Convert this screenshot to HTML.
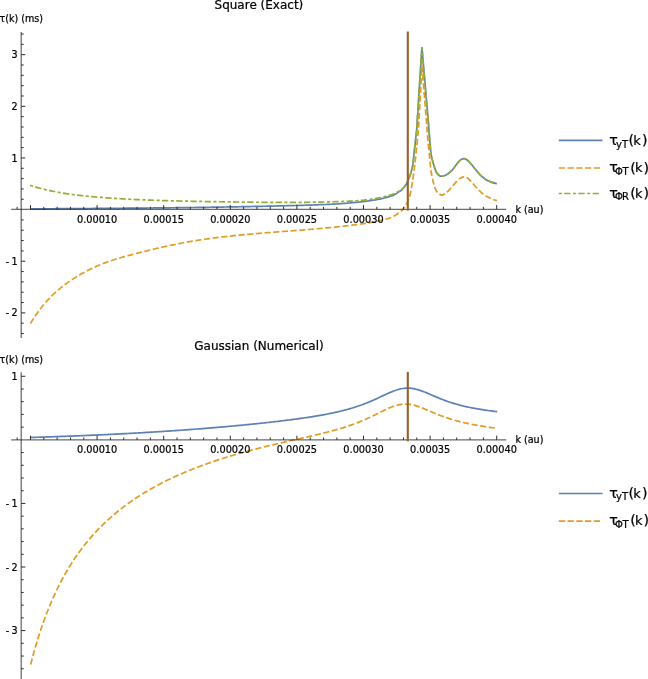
<!DOCTYPE html>
<html lang="en"><head><meta charset="utf-8"><title>Plots</title>
<style>html,body{margin:0;padding:0;background:#fff;}svg{display:block;}text{font-family:"DejaVu Sans","Liberation Sans",sans-serif;fill:#000;stroke:#000;stroke-width:0.22px;}</style></head><body>
<svg width="648" height="679" viewBox="0 0 648 679">
<rect width="648" height="679" fill="#fff"/>
<path d="M30.50 208.88 C30.75 208.88 31.50 208.88 32.00 208.87 C32.50 208.87 33.01 208.87 33.51 208.86 C34.01 208.86 34.51 208.86 35.01 208.85 C35.51 208.85 36.01 208.85 36.51 208.84 C37.01 208.84 37.52 208.84 38.02 208.84 C38.52 208.83 39.02 208.83 39.52 208.83 C40.02 208.82 40.52 208.82 41.02 208.82 C41.52 208.81 42.03 208.81 42.53 208.81 C43.03 208.80 43.53 208.80 44.03 208.80 C44.53 208.80 45.03 208.79 45.53 208.79 C46.03 208.79 46.54 208.78 47.04 208.78 C47.54 208.78 48.04 208.77 48.54 208.77 C49.04 208.77 49.54 208.76 50.04 208.76 C50.54 208.76 51.05 208.75 51.55 208.75 C52.05 208.75 52.55 208.74 53.05 208.74 C53.55 208.74 54.05 208.74 54.55 208.73 C55.05 208.73 55.56 208.73 56.06 208.72 C56.56 208.72 57.06 208.72 57.56 208.71 C58.06 208.71 58.56 208.71 59.06 208.70 C59.56 208.70 60.07 208.70 60.57 208.69 C61.07 208.69 61.57 208.69 62.07 208.68 C62.57 208.68 63.07 208.68 63.57 208.68 C64.07 208.67 64.57 208.67 65.08 208.67 C65.58 208.66 66.08 208.66 66.58 208.66 C67.08 208.65 67.58 208.65 68.08 208.65 C68.58 208.64 69.08 208.64 69.59 208.64 C70.09 208.63 70.59 208.63 71.09 208.63 C71.59 208.62 72.09 208.62 72.59 208.62 C73.09 208.61 73.59 208.61 74.10 208.61 C74.60 208.60 75.10 208.60 75.60 208.60 C76.10 208.59 76.60 208.59 77.10 208.59 C77.60 208.58 78.10 208.58 78.61 208.58 C79.11 208.57 79.61 208.57 80.11 208.57 C80.61 208.56 81.11 208.56 81.61 208.56 C82.11 208.55 82.61 208.55 83.12 208.55 C83.62 208.54 84.12 208.54 84.62 208.54 C85.12 208.53 85.62 208.53 86.12 208.53 C86.62 208.52 87.12 208.52 87.63 208.52 C88.13 208.51 88.63 208.51 89.13 208.51 C89.63 208.50 90.13 208.50 90.63 208.49 C91.13 208.49 91.63 208.49 92.14 208.48 C92.64 208.48 93.14 208.48 93.64 208.47 C94.14 208.47 94.64 208.47 95.14 208.46 C95.64 208.46 96.14 208.46 96.65 208.45 C97.15 208.45 97.65 208.44 98.15 208.44 C98.65 208.44 99.15 208.43 99.65 208.43 C100.15 208.43 100.65 208.42 101.16 208.42 C101.66 208.42 102.16 208.41 102.66 208.41 C103.16 208.40 103.66 208.40 104.16 208.40 C104.66 208.39 105.16 208.39 105.67 208.39 C106.17 208.38 106.67 208.38 107.17 208.37 C107.67 208.37 108.17 208.37 108.67 208.36 C109.17 208.36 109.67 208.35 110.18 208.35 C110.68 208.35 111.18 208.34 111.68 208.34 C112.18 208.33 112.68 208.33 113.18 208.33 C113.68 208.32 114.18 208.32 114.69 208.32 C115.19 208.31 115.69 208.31 116.19 208.30 C116.69 208.30 117.19 208.29 117.69 208.29 C118.19 208.29 118.69 208.28 119.20 208.28 C119.70 208.27 120.20 208.27 120.70 208.27 C121.20 208.26 121.70 208.26 122.20 208.25 C122.70 208.25 123.20 208.25 123.70 208.24 C124.21 208.24 124.71 208.23 125.21 208.23 C125.71 208.22 126.21 208.22 126.71 208.22 C127.21 208.21 127.71 208.21 128.21 208.20 C128.72 208.20 129.22 208.19 129.72 208.19 C130.22 208.19 130.72 208.18 131.22 208.18 C131.72 208.17 132.22 208.17 132.72 208.16 C133.23 208.16 133.73 208.15 134.23 208.15 C134.73 208.14 135.23 208.14 135.73 208.14 C136.23 208.13 136.73 208.13 137.23 208.12 C137.74 208.12 138.24 208.11 138.74 208.11 C139.24 208.10 139.74 208.10 140.24 208.09 C140.74 208.09 141.24 208.08 141.74 208.08 C142.25 208.08 142.75 208.07 143.25 208.07 C143.75 208.06 144.25 208.06 144.75 208.05 C145.25 208.05 145.75 208.04 146.25 208.04 C146.76 208.03 147.26 208.03 147.76 208.02 C148.26 208.02 148.76 208.01 149.26 208.01 C149.76 208.00 150.26 208.00 150.76 207.99 C151.27 207.99 151.77 207.98 152.27 207.98 C152.77 207.97 153.27 207.97 153.77 207.96 C154.27 207.96 154.77 207.95 155.27 207.95 C155.78 207.94 156.28 207.94 156.78 207.93 C157.28 207.92 157.78 207.92 158.28 207.91 C158.78 207.91 159.28 207.90 159.78 207.90 C160.29 207.89 160.79 207.89 161.29 207.88 C161.79 207.88 162.29 207.87 162.79 207.87 C163.29 207.86 163.79 207.85 164.29 207.85 C164.80 207.84 165.30 207.84 165.80 207.83 C166.30 207.83 166.80 207.82 167.30 207.82 C167.80 207.81 168.30 207.80 168.80 207.80 C169.31 207.79 169.81 207.79 170.31 207.78 C170.81 207.78 171.31 207.77 171.81 207.76 C172.31 207.76 172.81 207.75 173.31 207.75 C173.82 207.74 174.32 207.73 174.82 207.73 C175.32 207.72 175.82 207.72 176.32 207.71 C176.82 207.70 177.32 207.70 177.82 207.69 C178.33 207.69 178.83 207.68 179.33 207.67 C179.83 207.67 180.33 207.66 180.83 207.65 C181.33 207.65 181.83 207.64 182.33 207.64 C182.83 207.63 183.34 207.62 183.84 207.62 C184.34 207.61 184.84 207.60 185.34 207.60 C185.84 207.59 186.34 207.59 186.84 207.58 C187.34 207.57 187.85 207.57 188.35 207.56 C188.85 207.55 189.35 207.55 189.85 207.54 C190.35 207.53 190.85 207.53 191.35 207.52 C191.85 207.51 192.36 207.51 192.86 207.50 C193.36 207.49 193.86 207.49 194.36 207.48 C194.86 207.47 195.36 207.46 195.86 207.46 C196.36 207.45 196.87 207.44 197.37 207.44 C197.87 207.43 198.37 207.42 198.87 207.42 C199.37 207.41 199.87 207.40 200.37 207.39 C200.87 207.39 201.38 207.38 201.88 207.37 C202.38 207.37 202.88 207.36 203.38 207.35 C203.88 207.34 204.38 207.34 204.88 207.33 C205.38 207.32 205.89 207.31 206.39 207.31 C206.89 207.30 207.39 207.29 207.89 207.28 C208.39 207.28 208.89 207.27 209.39 207.26 C209.89 207.25 210.40 207.25 210.90 207.24 C211.40 207.23 211.90 207.22 212.40 207.22 C212.90 207.21 213.40 207.20 213.90 207.19 C214.40 207.18 214.91 207.18 215.41 207.17 C215.91 207.16 216.41 207.15 216.91 207.14 C217.41 207.14 217.91 207.13 218.41 207.12 C218.91 207.11 219.42 207.10 219.92 207.10 C220.42 207.09 220.92 207.08 221.42 207.07 C221.92 207.06 222.42 207.05 222.92 207.05 C223.42 207.04 223.93 207.03 224.43 207.02 C224.93 207.01 225.43 207.00 225.93 206.99 C226.43 206.99 226.93 206.98 227.43 206.97 C227.93 206.96 228.44 206.95 228.94 206.94 C229.44 206.93 229.94 206.93 230.44 206.92 C230.94 206.91 231.44 206.90 231.94 206.89 C232.44 206.88 232.95 206.87 233.45 206.86 C233.95 206.85 234.45 206.85 234.95 206.84 C235.45 206.83 235.95 206.82 236.45 206.81 C236.95 206.80 237.46 206.79 237.96 206.78 C238.46 206.77 238.96 206.76 239.46 206.75 C239.96 206.74 240.46 206.73 240.96 206.73 C241.46 206.72 241.97 206.71 242.47 206.70 C242.97 206.69 243.47 206.68 243.97 206.67 C244.47 206.66 244.97 206.65 245.47 206.64 C245.97 206.63 246.47 206.62 246.98 206.61 C247.48 206.60 247.98 206.59 248.48 206.58 C248.98 206.57 249.48 206.56 249.98 206.55 C250.48 206.54 250.98 206.53 251.49 206.52 C251.99 206.51 252.49 206.50 252.99 206.49 C253.49 206.48 253.99 206.47 254.49 206.46 C254.99 206.45 255.49 206.44 256.00 206.43 C256.50 206.42 257.00 206.41 257.50 206.40 C258.00 206.39 258.50 206.37 259.00 206.36 C259.50 206.35 260.00 206.34 260.51 206.33 C261.01 206.32 261.51 206.31 262.01 206.30 C262.51 206.29 263.01 206.28 263.51 206.27 C264.01 206.26 264.51 206.24 265.02 206.23 C265.52 206.22 266.02 206.21 266.52 206.20 C267.02 206.19 267.52 206.18 268.02 206.17 C268.52 206.16 269.02 206.14 269.53 206.13 C270.03 206.12 270.53 206.11 271.03 206.10 C271.53 206.09 272.03 206.08 272.53 206.06 C273.03 206.05 273.53 206.04 274.04 206.03 C274.54 206.02 275.04 206.01 275.54 205.99 C276.04 205.98 276.54 205.97 277.04 205.96 C277.54 205.95 278.04 205.93 278.55 205.92 C279.05 205.91 279.55 205.90 280.05 205.89 C280.55 205.87 281.05 205.86 281.55 205.85 C282.05 205.84 282.55 205.82 283.06 205.81 C283.56 205.80 284.06 205.79 284.56 205.78 C285.06 205.76 285.56 205.75 286.06 205.74 C286.56 205.72 287.06 205.71 287.57 205.70 C288.07 205.69 288.57 205.67 289.07 205.66 C289.57 205.65 290.07 205.64 290.57 205.62 C291.07 205.61 291.57 205.60 292.08 205.58 C292.58 205.57 293.08 205.56 293.58 205.54 C294.08 205.53 294.58 205.52 295.08 205.50 C295.58 205.49 296.08 205.48 296.59 205.46 C297.09 205.45 297.59 205.44 298.09 205.42 C298.59 205.41 299.09 205.40 299.59 205.38 C300.09 205.37 300.59 205.36 301.10 205.34 C301.60 205.33 302.10 205.31 302.60 205.30 C303.10 205.29 303.60 205.27 304.10 205.26 C304.60 205.24 305.10 205.23 305.60 205.21 C306.11 205.20 306.61 205.19 307.11 205.17 C307.61 205.16 308.11 205.14 308.61 205.13 C309.11 205.11 309.61 205.10 310.11 205.08 C310.62 205.06 311.12 205.05 311.62 205.03 C312.12 205.02 312.62 205.00 313.12 204.98 C313.62 204.97 314.12 204.95 314.62 204.93 C315.13 204.92 315.63 204.90 316.13 204.88 C316.63 204.86 317.13 204.85 317.63 204.83 C318.13 204.81 318.63 204.79 319.13 204.77 C319.64 204.75 320.14 204.73 320.64 204.71 C321.14 204.69 321.64 204.67 322.14 204.65 C322.64 204.63 323.14 204.61 323.64 204.59 C324.15 204.57 324.65 204.55 325.15 204.52 C325.65 204.50 326.15 204.48 326.65 204.46 C327.15 204.43 327.65 204.41 328.15 204.39 C328.66 204.36 329.16 204.34 329.66 204.31 C330.16 204.29 330.66 204.26 331.16 204.24 C331.66 204.21 332.16 204.18 332.66 204.16 C333.17 204.13 333.67 204.10 334.17 204.07 C334.67 204.04 335.17 204.02 335.67 203.99 C336.17 203.96 336.67 203.93 337.17 203.89 C337.68 203.86 338.18 203.83 338.68 203.80 C339.18 203.77 339.68 203.74 340.18 203.70 C340.68 203.67 341.18 203.63 341.68 203.60 C342.19 203.57 342.69 203.53 343.19 203.49 C343.69 203.46 344.19 203.42 344.69 203.38 C345.19 203.35 345.69 203.31 346.19 203.27 C346.70 203.23 347.20 203.19 347.70 203.15 C348.20 203.11 348.70 203.07 349.20 203.02 C349.70 202.98 350.20 202.94 350.70 202.89 C351.21 202.85 351.71 202.80 352.21 202.76 C352.71 202.71 353.21 202.67 353.71 202.62 C354.21 202.57 354.71 202.52 355.21 202.47 C355.72 202.43 356.22 202.37 356.72 202.32 C357.22 202.27 357.72 202.22 358.22 202.17 C358.72 202.11 359.22 202.06 359.72 202.01 C360.23 201.95 360.73 201.90 361.23 201.84 C361.73 201.78 362.23 201.72 362.73 201.66 C363.23 201.61 363.73 201.55 364.23 201.49 C364.73 201.42 365.24 201.36 365.74 201.30 C366.24 201.24 366.74 201.17 367.24 201.11 C367.74 201.04 368.24 200.97 368.74 200.90 C369.24 200.84 369.75 200.76 370.25 200.69 C370.75 200.62 371.25 200.55 371.75 200.47 C372.25 200.39 372.75 200.31 373.25 200.23 C373.75 200.15 374.26 200.07 374.76 199.98 C375.26 199.90 375.76 199.81 376.26 199.72 C376.76 199.63 377.26 199.54 377.76 199.44 C378.26 199.34 378.77 199.24 379.27 199.14 C379.77 199.04 380.27 198.93 380.77 198.82 C381.27 198.71 381.77 198.60 382.27 198.48 C382.77 198.37 383.28 198.25 383.78 198.12 C384.28 198.00 384.78 197.87 385.28 197.74 C385.78 197.61 386.28 197.47 386.78 197.33 C387.28 197.19 387.79 197.04 388.29 196.90 C388.79 196.75 389.29 196.59 389.79 196.43 C390.29 196.28 390.79 196.11 391.29 195.94 C391.79 195.78 392.30 195.63 392.80 195.42 C393.30 195.22 393.02 195.45 394.30 194.70 C395.58 193.95 398.85 192.15 400.50 190.90 C402.15 189.65 403.17 188.43 404.20 187.20 C405.23 185.97 405.88 185.03 406.70 183.50 C407.52 181.97 408.38 179.85 409.10 178.00 C409.82 176.15 410.38 174.57 411.00 172.40 C411.62 170.23 412.28 168.25 412.80 165.00 C413.32 161.75 413.63 157.18 414.10 152.90 C414.57 148.62 415.17 143.12 415.60 139.30 C416.03 135.48 416.52 131.55 416.70 130.00 L421.90 47.40 L429.00 130.00 C429.12 131.60 429.35 135.57 429.70 139.60 C430.05 143.63 430.45 150.03 431.10 154.20 C431.75 158.37 432.75 161.63 433.60 164.60 C434.45 167.57 435.27 170.18 436.20 172.00 C437.13 173.82 438.22 174.80 439.20 175.50 C440.18 176.20 440.88 176.33 442.10 176.20 C443.32 176.07 444.95 175.58 446.50 174.70 C448.05 173.82 450.02 172.23 451.40 170.90 C452.78 169.57 453.62 168.22 454.80 166.70 C455.98 165.18 457.37 163.03 458.50 161.80 C459.63 160.57 460.67 159.82 461.60 159.30 C462.53 158.78 463.17 158.58 464.10 158.70 C465.03 158.82 466.07 159.17 467.20 160.00 C468.33 160.83 469.47 162.07 470.90 163.70 C472.33 165.33 474.17 167.85 475.80 169.80 C477.43 171.75 479.05 173.78 480.70 175.40 C482.35 177.02 484.05 178.42 485.70 179.50 C487.35 180.58 488.75 181.20 490.60 181.90 C492.45 182.60 495.77 183.40 496.80 183.70" fill="none" stroke="#5E81B5" stroke-width="1.7" stroke-linejoin="miter"/>
<path d="M30.40 323.63 C30.65 323.22 31.40 321.97 31.90 321.17 C32.40 320.36 32.90 319.57 33.41 318.79 C33.91 318.02 34.41 317.25 34.91 316.51 C35.41 315.76 35.91 315.02 36.41 314.30 C36.91 313.58 37.41 312.87 37.91 312.18 C38.42 311.48 38.92 310.80 39.42 310.13 C39.92 309.46 40.42 308.80 40.92 308.16 C41.42 307.51 41.92 306.88 42.42 306.25 C42.92 305.63 43.43 305.02 43.93 304.42 C44.43 303.82 44.93 303.23 45.43 302.65 C45.93 302.08 46.43 301.51 46.93 300.95 C47.43 300.39 47.93 299.84 48.44 299.31 C48.94 298.77 49.44 298.24 49.94 297.72 C50.44 297.20 50.94 296.69 51.44 296.19 C51.94 295.69 52.44 295.20 52.94 294.71 C53.44 294.23 53.95 293.76 54.45 293.29 C54.95 292.82 55.45 292.36 55.95 291.91 C56.45 291.46 56.95 291.02 57.45 290.58 C57.95 290.15 58.45 289.72 58.96 289.30 C59.46 288.87 59.96 288.46 60.46 288.05 C60.96 287.64 61.46 287.24 61.96 286.85 C62.46 286.45 62.96 286.07 63.46 285.68 C63.97 285.30 64.47 284.92 64.97 284.55 C65.47 284.18 65.97 283.81 66.47 283.45 C66.97 283.09 67.47 282.74 67.97 282.39 C68.47 282.03 68.97 281.69 69.48 281.35 C69.98 281.01 70.48 280.67 70.98 280.33 C71.48 280.00 71.98 279.67 72.48 279.35 C72.98 279.02 73.48 278.70 73.98 278.38 C74.49 278.06 74.99 277.74 75.49 277.43 C75.99 277.12 76.49 276.81 76.99 276.51 C77.49 276.20 77.99 275.90 78.49 275.61 C78.99 275.31 79.50 275.01 80.00 274.72 C80.50 274.43 81.00 274.14 81.50 273.86 C82.00 273.58 82.50 273.30 83.00 273.02 C83.50 272.74 84.00 272.47 84.51 272.20 C85.01 271.93 85.51 271.66 86.01 271.39 C86.51 271.13 87.01 270.87 87.51 270.61 C88.01 270.35 88.51 270.10 89.01 269.85 C89.51 269.60 90.02 269.35 90.52 269.10 C91.02 268.86 91.52 268.62 92.02 268.38 C92.52 268.14 93.02 267.90 93.52 267.67 C94.02 267.44 94.52 267.21 95.03 266.98 C95.53 266.75 96.03 266.53 96.53 266.31 C97.03 266.09 97.53 265.87 98.03 265.66 C98.53 265.44 99.03 265.23 99.53 265.02 C100.04 264.81 100.54 264.60 101.04 264.40 C101.54 264.20 102.04 264.00 102.54 263.80 C103.04 263.60 103.54 263.41 104.04 263.22 C104.54 263.02 105.04 262.83 105.55 262.65 C106.05 262.46 106.55 262.28 107.05 262.10 C107.55 261.91 108.05 261.74 108.55 261.56 C109.05 261.38 109.55 261.21 110.05 261.04 C110.56 260.86 111.06 260.70 111.56 260.53 C112.06 260.36 112.56 260.19 113.06 260.03 C113.56 259.87 114.06 259.71 114.56 259.55 C115.06 259.39 115.57 259.23 116.07 259.08 C116.57 258.92 117.07 258.77 117.57 258.61 C118.07 258.46 118.57 258.31 119.07 258.16 C119.57 258.01 120.07 257.86 120.58 257.72 C121.08 257.57 121.58 257.43 122.08 257.28 C122.58 257.14 123.08 257.00 123.58 256.86 C124.08 256.72 124.58 256.58 125.08 256.44 C125.58 256.30 126.09 256.16 126.59 256.02 C127.09 255.88 127.59 255.75 128.09 255.61 C128.59 255.48 129.09 255.34 129.59 255.21 C130.09 255.07 130.59 254.94 131.10 254.81 C131.60 254.68 132.10 254.54 132.60 254.41 C133.10 254.28 133.60 254.15 134.10 254.02 C134.60 253.89 135.10 253.75 135.60 253.62 C136.11 253.49 136.61 253.36 137.11 253.23 C137.61 253.11 138.11 252.98 138.61 252.85 C139.11 252.72 139.61 252.59 140.11 252.46 C140.61 252.34 141.11 252.21 141.62 252.08 C142.12 251.96 142.62 251.83 143.12 251.70 C143.62 251.58 144.12 251.45 144.62 251.33 C145.12 251.20 145.62 251.08 146.12 250.95 C146.63 250.83 147.13 250.71 147.63 250.58 C148.13 250.46 148.63 250.34 149.13 250.22 C149.63 250.10 150.13 249.97 150.63 249.85 C151.13 249.73 151.64 249.61 152.14 249.49 C152.64 249.37 153.14 249.25 153.64 249.14 C154.14 249.02 154.64 248.90 155.14 248.78 C155.64 248.66 156.14 248.55 156.65 248.43 C157.15 248.31 157.65 248.20 158.15 248.08 C158.65 247.97 159.15 247.85 159.65 247.74 C160.15 247.62 160.65 247.51 161.15 247.40 C161.65 247.28 162.16 247.17 162.66 247.06 C163.16 246.95 163.66 246.84 164.16 246.73 C164.66 246.62 165.16 246.51 165.66 246.40 C166.16 246.29 166.66 246.18 167.17 246.07 C167.67 245.96 168.17 245.85 168.67 245.75 C169.17 245.64 169.67 245.53 170.17 245.43 C170.67 245.32 171.17 245.22 171.67 245.11 C172.18 245.01 172.68 244.90 173.18 244.80 C173.68 244.70 174.18 244.60 174.68 244.49 C175.18 244.39 175.68 244.29 176.18 244.19 C176.68 244.09 177.18 243.99 177.69 243.89 C178.19 243.79 178.69 243.69 179.19 243.60 C179.69 243.50 180.19 243.40 180.69 243.30 C181.19 243.21 181.69 243.11 182.19 243.02 C182.70 242.92 183.20 242.83 183.70 242.73 C184.20 242.64 184.70 242.55 185.20 242.46 C185.70 242.36 186.20 242.27 186.70 242.18 C187.20 242.09 187.71 242.00 188.21 241.91 C188.71 241.82 189.21 241.73 189.71 241.65 C190.21 241.56 190.71 241.47 191.21 241.39 C191.71 241.30 192.21 241.21 192.72 241.13 C193.22 241.05 193.72 240.96 194.22 240.88 C194.72 240.80 195.22 240.71 195.72 240.63 C196.22 240.55 196.72 240.47 197.22 240.39 C197.72 240.31 198.23 240.23 198.73 240.15 C199.23 240.07 199.73 239.99 200.23 239.92 C200.73 239.84 201.23 239.76 201.73 239.69 C202.23 239.61 202.73 239.54 203.24 239.46 C203.74 239.39 204.24 239.31 204.74 239.24 C205.24 239.17 205.74 239.10 206.24 239.02 C206.74 238.95 207.24 238.88 207.74 238.81 C208.25 238.74 208.75 238.67 209.25 238.60 C209.75 238.53 210.25 238.46 210.75 238.40 C211.25 238.33 211.75 238.26 212.25 238.20 C212.75 238.13 213.25 238.06 213.76 238.00 C214.26 237.93 214.76 237.87 215.26 237.80 C215.76 237.74 216.26 237.68 216.76 237.61 C217.26 237.55 217.76 237.49 218.26 237.42 C218.77 237.36 219.27 237.30 219.77 237.24 C220.27 237.18 220.77 237.12 221.27 237.06 C221.77 237.00 222.27 236.94 222.77 236.88 C223.27 236.82 223.78 236.76 224.28 236.71 C224.78 236.65 225.28 236.59 225.78 236.54 C226.28 236.48 226.78 236.42 227.28 236.37 C227.78 236.31 228.28 236.26 228.79 236.20 C229.29 236.15 229.79 236.09 230.29 236.04 C230.79 235.98 231.29 235.93 231.79 235.88 C232.29 235.83 232.79 235.77 233.29 235.72 C233.79 235.67 234.30 235.62 234.80 235.57 C235.30 235.51 235.80 235.46 236.30 235.41 C236.80 235.36 237.30 235.31 237.80 235.26 C238.30 235.21 238.80 235.16 239.31 235.12 C239.81 235.07 240.31 235.02 240.81 234.97 C241.31 234.92 241.81 234.87 242.31 234.83 C242.81 234.78 243.31 234.73 243.81 234.69 C244.32 234.64 244.82 234.59 245.32 234.55 C245.82 234.50 246.32 234.45 246.82 234.41 C247.32 234.36 247.82 234.32 248.32 234.27 C248.82 234.23 249.32 234.18 249.83 234.14 C250.33 234.10 250.83 234.05 251.33 234.01 C251.83 233.96 252.33 233.92 252.83 233.88 C253.33 233.83 253.83 233.79 254.33 233.75 C254.84 233.71 255.34 233.66 255.84 233.62 C256.34 233.58 256.84 233.54 257.34 233.50 C257.84 233.45 258.34 233.41 258.84 233.37 C259.34 233.33 259.85 233.29 260.35 233.25 C260.85 233.21 261.35 233.17 261.85 233.13 C262.35 233.09 262.85 233.05 263.35 233.01 C263.85 232.97 264.35 232.93 264.86 232.89 C265.36 232.85 265.86 232.81 266.36 232.77 C266.86 232.73 267.36 232.69 267.86 232.65 C268.36 232.61 268.86 232.57 269.36 232.53 C269.86 232.49 270.37 232.45 270.87 232.42 C271.37 232.38 271.87 232.34 272.37 232.30 C272.87 232.26 273.37 232.22 273.87 232.18 C274.37 232.15 274.87 232.11 275.38 232.07 C275.88 232.03 276.38 231.99 276.88 231.95 C277.38 231.92 277.88 231.88 278.38 231.84 C278.88 231.80 279.38 231.76 279.88 231.73 C280.39 231.69 280.89 231.65 281.39 231.61 C281.89 231.58 282.39 231.54 282.89 231.50 C283.39 231.46 283.89 231.42 284.39 231.39 C284.89 231.35 285.39 231.31 285.90 231.27 C286.40 231.23 286.90 231.20 287.40 231.16 C287.90 231.12 288.40 231.08 288.90 231.04 C289.40 231.01 289.90 230.97 290.40 230.93 C290.91 230.89 291.41 230.85 291.91 230.82 C292.41 230.78 292.91 230.74 293.41 230.70 C293.91 230.66 294.41 230.62 294.91 230.59 C295.41 230.55 295.92 230.51 296.42 230.47 C296.92 230.43 297.42 230.39 297.92 230.35 C298.42 230.31 298.92 230.28 299.42 230.24 C299.92 230.20 300.42 230.16 300.93 230.12 C301.43 230.08 301.93 230.04 302.43 230.00 C302.93 229.96 303.43 229.92 303.93 229.88 C304.43 229.84 304.93 229.80 305.43 229.76 C305.93 229.72 306.44 229.68 306.94 229.64 C307.44 229.60 307.94 229.56 308.44 229.52 C308.94 229.47 309.44 229.43 309.94 229.39 C310.44 229.35 310.94 229.31 311.45 229.27 C311.95 229.22 312.45 229.18 312.95 229.14 C313.45 229.10 313.95 229.06 314.45 229.01 C314.95 228.97 315.45 228.93 315.95 228.88 C316.46 228.84 316.96 228.80 317.46 228.75 C317.96 228.71 318.46 228.67 318.96 228.62 C319.46 228.58 319.96 228.53 320.46 228.49 C320.96 228.44 321.46 228.40 321.97 228.35 C322.47 228.31 322.97 228.26 323.47 228.21 C323.97 228.17 324.47 228.12 324.97 228.07 C325.47 228.03 325.97 227.98 326.47 227.93 C326.98 227.89 327.48 227.84 327.98 227.79 C328.48 227.74 328.98 227.69 329.48 227.65 C329.98 227.60 330.48 227.55 330.98 227.50 C331.48 227.45 331.99 227.40 332.49 227.35 C332.99 227.30 333.49 227.25 333.99 227.20 C334.49 227.15 334.99 227.09 335.49 227.04 C335.99 226.99 336.49 226.94 337.00 226.89 C337.50 226.83 338.00 226.78 338.50 226.73 C339.00 226.67 339.50 226.62 340.00 226.57 C340.50 226.51 341.00 226.46 341.50 226.40 C342.00 226.35 342.51 226.29 343.01 226.24 C343.51 226.18 344.01 226.12 344.51 226.07 C345.01 226.01 345.51 225.95 346.01 225.89 C346.51 225.84 347.01 225.78 347.52 225.72 C348.02 225.66 348.52 225.60 349.02 225.54 C349.52 225.48 350.02 225.42 350.52 225.36 C351.02 225.30 351.52 225.24 352.02 225.17 C352.53 225.11 353.03 225.05 353.53 224.99 C354.03 224.92 354.53 224.86 355.03 224.80 C355.53 224.73 356.03 224.67 356.53 224.60 C357.03 224.54 357.53 224.47 358.04 224.40 C358.54 224.33 359.04 224.27 359.54 224.20 C360.04 224.13 360.54 224.06 361.04 223.99 C361.54 223.92 362.04 223.85 362.54 223.77 C363.05 223.70 363.55 223.63 364.05 223.55 C364.55 223.47 365.05 223.40 365.55 223.32 C366.05 223.24 366.55 223.16 367.05 223.08 C367.55 223.00 368.06 222.92 368.56 222.83 C369.06 222.75 369.56 222.67 370.06 222.58 C370.56 222.49 371.06 222.40 371.56 222.31 C372.06 222.22 372.56 222.13 373.07 222.03 C373.57 221.94 374.07 221.84 374.57 221.75 C375.07 221.65 375.57 221.55 376.07 221.44 C376.57 221.34 377.07 221.24 377.57 221.13 C378.07 221.02 378.58 220.92 379.08 220.80 C379.58 220.69 380.08 220.58 380.58 220.46 C381.08 220.35 381.58 220.23 382.08 220.11 C382.58 219.99 383.08 219.86 383.59 219.74 C384.09 219.61 384.59 219.48 385.09 219.35 C385.59 219.22 386.09 219.08 386.59 218.95 C387.09 218.81 387.59 218.67 388.09 218.53 C388.60 218.38 389.10 218.26 389.60 218.09 C390.10 217.92 390.00 218.06 391.10 217.50 C392.20 216.94 394.43 215.83 396.20 214.70 C397.97 213.57 400.17 212.20 401.70 210.70 C403.23 209.20 404.17 207.77 405.40 205.70 C406.63 203.63 408.07 201.38 409.10 198.30 C410.13 195.22 410.90 190.90 411.60 187.20 C412.30 183.50 412.77 179.80 413.30 176.10 C413.83 172.40 414.25 169.68 414.80 165.00 C415.35 160.32 416.00 153.83 416.60 148.00 C417.20 142.17 418.10 133.00 418.40 130.00 L422.00 66.40 L427.10 130.00 C427.23 131.67 427.48 135.53 427.90 140.00 C428.32 144.47 429.07 151.55 429.60 156.80 C430.13 162.05 430.43 167.08 431.10 171.50 C431.77 175.92 432.75 180.10 433.60 183.30 C434.45 186.50 435.27 188.93 436.20 190.70 C437.13 192.47 438.22 193.17 439.20 193.90 C440.18 194.63 441.15 195.13 442.10 195.10 C443.05 195.07 443.82 194.45 444.90 193.70 C445.98 192.95 447.37 191.83 448.60 190.60 C449.83 189.37 450.85 187.95 452.30 186.30 C453.75 184.65 455.85 182.13 457.30 180.70 C458.75 179.27 459.87 178.35 461.00 177.70 C462.13 177.05 462.97 176.70 464.10 176.80 C465.23 176.90 466.47 177.33 467.80 178.30 C469.13 179.27 470.57 180.97 472.10 182.60 C473.63 184.23 475.35 186.35 477.00 188.10 C478.65 189.85 480.35 191.70 482.00 193.10 C483.65 194.50 485.25 195.52 486.90 196.50 C488.55 197.48 490.22 198.30 491.90 199.00 C493.58 199.70 496.15 200.42 497.00 200.70" fill="none" stroke="#E19C24" stroke-width="1.7" stroke-dasharray="6.07 2.63"/>
<path d="M30.10 185.32 C30.35 185.40 31.10 185.64 31.60 185.80 C32.11 185.96 32.61 186.11 33.11 186.26 C33.61 186.42 34.11 186.57 34.61 186.72 C35.12 186.86 35.62 187.01 36.12 187.15 C36.62 187.30 37.12 187.44 37.62 187.58 C38.13 187.72 38.63 187.86 39.13 187.99 C39.63 188.13 40.13 188.26 40.63 188.40 C41.14 188.53 41.64 188.66 42.14 188.79 C42.64 188.91 43.14 189.04 43.64 189.16 C44.15 189.29 44.65 189.41 45.15 189.53 C45.65 189.65 46.15 189.77 46.65 189.89 C47.16 190.00 47.66 190.12 48.16 190.23 C48.66 190.35 49.16 190.46 49.66 190.57 C50.17 190.68 50.67 190.79 51.17 190.89 C51.67 191.00 52.17 191.10 52.67 191.21 C53.18 191.31 53.68 191.41 54.18 191.51 C54.68 191.61 55.18 191.71 55.68 191.81 C56.19 191.90 56.69 192.00 57.19 192.09 C57.69 192.19 58.19 192.28 58.69 192.37 C59.20 192.46 59.70 192.55 60.20 192.64 C60.70 192.73 61.20 192.81 61.70 192.90 C62.21 192.98 62.71 193.07 63.21 193.15 C63.71 193.23 64.21 193.31 64.71 193.39 C65.22 193.47 65.72 193.55 66.22 193.63 C66.72 193.70 67.22 193.78 67.72 193.85 C68.23 193.93 68.73 194.00 69.23 194.07 C69.73 194.15 70.23 194.22 70.73 194.29 C71.24 194.36 71.74 194.42 72.24 194.49 C72.74 194.56 73.24 194.63 73.74 194.69 C74.25 194.76 74.75 194.82 75.25 194.88 C75.75 194.95 76.25 195.01 76.75 195.07 C77.26 195.13 77.76 195.19 78.26 195.25 C78.76 195.31 79.26 195.37 79.76 195.42 C80.27 195.48 80.77 195.54 81.27 195.59 C81.77 195.65 82.27 195.70 82.77 195.76 C83.28 195.81 83.78 195.86 84.28 195.92 C84.78 195.97 85.28 196.02 85.78 196.07 C86.29 196.12 86.79 196.17 87.29 196.22 C87.79 196.27 88.29 196.31 88.79 196.36 C89.30 196.41 89.80 196.46 90.30 196.50 C90.80 196.55 91.30 196.59 91.80 196.64 C92.30 196.68 92.81 196.73 93.31 196.77 C93.81 196.82 94.31 196.86 94.81 196.90 C95.31 196.95 95.82 196.99 96.32 197.03 C96.82 197.07 97.32 197.11 97.82 197.15 C98.32 197.19 98.83 197.23 99.33 197.27 C99.83 197.31 100.33 197.35 100.83 197.39 C101.33 197.43 101.84 197.47 102.34 197.51 C102.84 197.55 103.34 197.58 103.84 197.62 C104.34 197.66 104.85 197.70 105.35 197.73 C105.85 197.77 106.35 197.81 106.85 197.84 C107.35 197.88 107.86 197.91 108.36 197.95 C108.86 197.98 109.36 198.02 109.86 198.05 C110.36 198.09 110.87 198.12 111.37 198.16 C111.87 198.19 112.37 198.22 112.87 198.26 C113.37 198.29 113.88 198.32 114.38 198.36 C114.88 198.39 115.38 198.42 115.88 198.45 C116.38 198.48 116.89 198.52 117.39 198.55 C117.89 198.58 118.39 198.61 118.89 198.64 C119.39 198.67 119.90 198.70 120.40 198.73 C120.90 198.76 121.40 198.79 121.90 198.82 C122.40 198.85 122.91 198.87 123.41 198.90 C123.91 198.93 124.41 198.96 124.91 198.99 C125.41 199.02 125.92 199.04 126.42 199.07 C126.92 199.10 127.42 199.12 127.92 199.15 C128.42 199.18 128.93 199.20 129.43 199.23 C129.93 199.26 130.43 199.28 130.93 199.31 C131.43 199.33 131.94 199.36 132.44 199.38 C132.94 199.41 133.44 199.43 133.94 199.46 C134.44 199.48 134.95 199.50 135.45 199.53 C135.95 199.55 136.45 199.58 136.95 199.60 C137.45 199.62 137.96 199.64 138.46 199.67 C138.96 199.69 139.46 199.71 139.96 199.73 C140.46 199.76 140.97 199.78 141.47 199.80 C141.97 199.82 142.47 199.84 142.97 199.86 C143.47 199.88 143.98 199.91 144.48 199.93 C144.98 199.95 145.48 199.97 145.98 199.99 C146.48 200.01 146.99 200.03 147.49 200.05 C147.99 200.07 148.49 200.09 148.99 200.10 C149.49 200.12 150.00 200.14 150.50 200.16 C151.00 200.18 151.50 200.20 152.00 200.22 C152.50 200.23 153.00 200.25 153.51 200.27 C154.01 200.29 154.51 200.30 155.01 200.32 C155.51 200.34 156.01 200.36 156.52 200.37 C157.02 200.39 157.52 200.41 158.02 200.42 C158.52 200.44 159.02 200.46 159.53 200.47 C160.03 200.49 160.53 200.50 161.03 200.52 C161.53 200.54 162.03 200.55 162.54 200.57 C163.04 200.58 163.54 200.60 164.04 200.61 C164.54 200.63 165.04 200.64 165.55 200.66 C166.05 200.67 166.55 200.68 167.05 200.70 C167.55 200.71 168.05 200.73 168.56 200.74 C169.06 200.75 169.56 200.77 170.06 200.78 C170.56 200.79 171.06 200.81 171.57 200.82 C172.07 200.83 172.57 200.85 173.07 200.86 C173.57 200.87 174.07 200.88 174.58 200.90 C175.08 200.91 175.58 200.92 176.08 200.93 C176.58 200.95 177.08 200.96 177.59 200.97 C178.09 200.98 178.59 200.99 179.09 201.01 C179.59 201.02 180.09 201.03 180.60 201.04 C181.10 201.05 181.60 201.06 182.10 201.07 C182.60 201.09 183.10 201.10 183.61 201.11 C184.11 201.12 184.61 201.13 185.11 201.14 C185.61 201.15 186.11 201.16 186.62 201.17 C187.12 201.18 187.62 201.19 188.12 201.20 C188.62 201.21 189.12 201.22 189.63 201.23 C190.13 201.24 190.63 201.25 191.13 201.26 C191.63 201.27 192.13 201.28 192.64 201.29 C193.14 201.30 193.64 201.31 194.14 201.32 C194.64 201.33 195.14 201.34 195.65 201.35 C196.15 201.35 196.65 201.36 197.15 201.37 C197.65 201.38 198.15 201.39 198.66 201.40 C199.16 201.41 199.66 201.42 200.16 201.43 C200.66 201.43 201.16 201.44 201.67 201.45 C202.17 201.46 202.67 201.47 203.17 201.48 C203.67 201.49 204.17 201.49 204.68 201.50 C205.18 201.51 205.68 201.52 206.18 201.53 C206.68 201.54 207.18 201.54 207.69 201.55 C208.19 201.56 208.69 201.57 209.19 201.58 C209.69 201.58 210.19 201.59 210.70 201.60 C211.20 201.61 211.70 201.62 212.20 201.62 C212.70 201.63 213.20 201.64 213.70 201.65 C214.21 201.65 214.71 201.66 215.21 201.67 C215.71 201.68 216.21 201.69 216.71 201.69 C217.22 201.70 217.72 201.71 218.22 201.72 C218.72 201.72 219.22 201.73 219.72 201.74 C220.23 201.75 220.73 201.76 221.23 201.76 C221.73 201.77 222.23 201.78 222.73 201.79 C223.24 201.79 223.74 201.80 224.24 201.81 C224.74 201.82 225.24 201.82 225.74 201.83 C226.25 201.84 226.75 201.85 227.25 201.85 C227.75 201.86 228.25 201.87 228.75 201.88 C229.26 201.88 229.76 201.89 230.26 201.90 C230.76 201.91 231.26 201.91 231.76 201.92 C232.27 201.93 232.77 201.94 233.27 201.94 C233.77 201.95 234.27 201.96 234.77 201.96 C235.28 201.97 235.78 201.98 236.28 201.99 C236.78 201.99 237.28 202.00 237.78 202.01 C238.29 202.01 238.79 202.02 239.29 202.03 C239.79 202.03 240.29 202.04 240.79 202.05 C241.30 202.06 241.80 202.06 242.30 202.07 C242.80 202.08 243.30 202.08 243.80 202.09 C244.31 202.09 244.81 202.10 245.31 202.11 C245.81 202.11 246.31 202.12 246.81 202.13 C247.32 202.13 247.82 202.14 248.32 202.15 C248.82 202.15 249.32 202.16 249.82 202.16 C250.33 202.17 250.83 202.17 251.33 202.18 C251.83 202.19 252.33 202.19 252.83 202.20 C253.34 202.20 253.84 202.21 254.34 202.21 C254.84 202.22 255.34 202.23 255.84 202.23 C256.35 202.24 256.85 202.24 257.35 202.25 C257.85 202.25 258.35 202.26 258.85 202.26 C259.36 202.27 259.86 202.27 260.36 202.27 C260.86 202.28 261.36 202.28 261.86 202.29 C262.37 202.29 262.87 202.30 263.37 202.30 C263.87 202.31 264.37 202.31 264.87 202.31 C265.38 202.32 265.88 202.32 266.38 202.32 C266.88 202.33 267.38 202.33 267.88 202.34 C268.39 202.34 268.89 202.34 269.39 202.35 C269.89 202.35 270.39 202.35 270.89 202.35 C271.40 202.36 271.90 202.36 272.40 202.36 C272.90 202.37 273.40 202.37 273.90 202.37 C274.40 202.37 274.91 202.38 275.41 202.38 C275.91 202.38 276.41 202.38 276.91 202.38 C277.41 202.39 277.92 202.39 278.42 202.39 C278.92 202.39 279.42 202.39 279.92 202.39 C280.42 202.39 280.93 202.39 281.43 202.40 C281.93 202.40 282.43 202.40 282.93 202.40 C283.43 202.40 283.94 202.40 284.44 202.40 C284.94 202.40 285.44 202.40 285.94 202.40 C286.44 202.40 286.95 202.40 287.45 202.40 C287.95 202.40 288.45 202.40 288.95 202.40 C289.45 202.40 289.96 202.39 290.46 202.39 C290.96 202.39 291.46 202.39 291.96 202.39 C292.46 202.39 292.97 202.39 293.47 202.38 C293.97 202.38 294.47 202.38 294.97 202.38 C295.47 202.38 295.98 202.37 296.48 202.37 C296.98 202.37 297.48 202.37 297.98 202.36 C298.48 202.36 298.99 202.36 299.49 202.35 C299.99 202.35 300.49 202.35 300.99 202.34 C301.49 202.34 302.00 202.33 302.50 202.33 C303.00 202.33 303.50 202.32 304.00 202.32 C304.50 202.31 305.01 202.31 305.51 202.30 C306.01 202.30 306.51 202.29 307.01 202.28 C307.51 202.28 308.02 202.27 308.52 202.27 C309.02 202.26 309.52 202.26 310.02 202.25 C310.52 202.24 311.03 202.24 311.53 202.23 C312.03 202.22 312.53 202.21 313.03 202.21 C313.53 202.20 314.04 202.19 314.54 202.18 C315.04 202.18 315.54 202.17 316.04 202.16 C316.54 202.15 317.05 202.14 317.55 202.13 C318.05 202.12 318.55 202.12 319.05 202.11 C319.55 202.10 320.06 202.09 320.56 202.08 C321.06 202.07 321.56 202.06 322.06 202.05 C322.56 202.04 323.07 202.03 323.57 202.01 C324.07 202.00 324.57 201.99 325.07 201.98 C325.57 201.97 326.08 201.96 326.58 201.95 C327.08 201.93 327.58 201.92 328.08 201.91 C328.58 201.90 329.09 201.88 329.59 201.87 C330.09 201.86 330.59 201.84 331.09 201.83 C331.59 201.82 332.10 201.80 332.60 201.79 C333.10 201.77 333.60 201.76 334.10 201.74 C334.60 201.73 335.10 201.71 335.61 201.70 C336.11 201.68 336.61 201.67 337.11 201.65 C337.61 201.64 338.11 201.62 338.62 201.60 C339.12 201.59 339.62 201.57 340.12 201.55 C340.62 201.53 341.12 201.52 341.63 201.50 C342.13 201.48 342.63 201.46 343.13 201.44 C343.63 201.43 344.13 201.41 344.64 201.39 C345.14 201.37 345.64 201.35 346.14 201.32 C346.64 201.30 347.14 201.28 347.65 201.26 C348.15 201.23 348.65 201.21 349.15 201.19 C349.65 201.16 350.15 201.14 350.66 201.11 C351.16 201.08 351.66 201.06 352.16 201.03 C352.66 201.00 353.16 200.97 353.67 200.94 C354.17 200.91 354.67 200.87 355.17 200.84 C355.67 200.81 356.17 200.77 356.68 200.74 C357.18 200.70 357.68 200.66 358.18 200.62 C358.68 200.58 359.18 200.54 359.69 200.50 C360.19 200.46 360.69 200.41 361.19 200.37 C361.69 200.32 362.19 200.28 362.70 200.23 C363.20 200.18 363.70 200.13 364.20 200.07 C364.70 200.02 365.20 199.96 365.71 199.91 C366.21 199.85 366.71 199.79 367.21 199.73 C367.71 199.67 368.21 199.61 368.72 199.54 C369.22 199.48 369.72 199.41 370.22 199.34 C370.72 199.27 371.22 199.20 371.73 199.12 C372.23 199.05 372.73 198.97 373.23 198.89 C373.73 198.81 374.23 198.73 374.74 198.64 C375.24 198.56 375.74 198.47 376.24 198.38 C376.74 198.29 377.24 198.20 377.75 198.10 C378.25 198.00 378.75 197.91 379.25 197.80 C379.75 197.70 380.25 197.60 380.76 197.49 C381.26 197.38 381.76 197.27 382.26 197.16 C382.76 197.04 383.26 196.93 383.77 196.81 C384.27 196.69 384.77 196.56 385.27 196.44 C385.77 196.31 386.27 196.18 386.78 196.04 C387.28 195.91 387.78 195.77 388.28 195.63 C388.78 195.49 389.28 195.34 389.79 195.19 C390.29 195.04 390.79 194.89 391.29 194.74 C391.79 194.58 392.29 194.44 392.80 194.25 C393.30 194.06 393.02 194.26 394.30 193.60 C395.58 192.94 398.85 191.40 400.50 190.30 C402.15 189.20 403.17 188.13 404.20 187.00 C405.23 185.87 405.88 185.00 406.70 183.50 C407.52 182.00 408.38 179.85 409.10 178.00 C409.82 176.15 410.38 174.57 411.00 172.40 C411.62 170.23 412.28 168.25 412.80 165.00 C413.32 161.75 413.63 157.18 414.10 152.90 C414.57 148.62 415.17 143.12 415.60 139.30 C416.03 135.48 416.52 131.55 416.70 130.00 L421.90 47.40 L429.00 130.00 C429.12 131.60 429.35 135.57 429.70 139.60 C430.05 143.63 430.45 150.03 431.10 154.20 C431.75 158.37 432.75 161.63 433.60 164.60 C434.45 167.57 435.27 170.18 436.20 172.00 C437.13 173.82 438.22 174.80 439.20 175.50 C440.18 176.20 440.88 176.33 442.10 176.20 C443.32 176.07 444.95 175.58 446.50 174.70 C448.05 173.82 450.02 172.23 451.40 170.90 C452.78 169.57 453.62 168.22 454.80 166.70 C455.98 165.18 457.37 163.03 458.50 161.80 C459.63 160.57 460.67 159.82 461.60 159.30 C462.53 158.78 463.17 158.58 464.10 158.70 C465.03 158.82 466.07 159.17 467.20 160.00 C468.33 160.83 469.47 162.07 470.90 163.70 C472.33 165.33 474.17 167.85 475.80 169.80 C477.43 171.75 479.05 173.78 480.70 175.40 C482.35 177.02 484.05 178.42 485.70 179.50 C487.35 180.58 488.75 181.20 490.60 181.90 C492.45 182.60 495.77 183.40 496.80 183.70" fill="none" stroke="#8FB032" stroke-width="1.7" stroke-dasharray="3.1 2.3 6.3 2.5"/>
<path d="M30.60 437.45 L32.10 437.41 L33.60 437.36 L35.10 437.32 L36.60 437.27 L38.10 437.23 L39.60 437.18 L41.10 437.13 L42.60 437.08 L44.10 437.04 L45.60 436.99 L47.10 436.94 L48.60 436.89 L50.10 436.84 L51.60 436.79 L53.10 436.74 L54.61 436.69 L56.11 436.63 L57.61 436.58 L59.11 436.53 L60.61 436.47 L62.11 436.42 L63.61 436.36 L65.11 436.31 L66.61 436.25 L68.11 436.20 L69.61 436.14 L71.11 436.08 L72.61 436.03 L74.11 435.97 L75.61 435.91 L77.11 435.85 L78.61 435.79 L80.11 435.73 L81.61 435.67 L83.11 435.61 L84.61 435.54 L86.11 435.48 L87.61 435.42 L89.11 435.35 L90.61 435.29 L92.11 435.22 L93.61 435.16 L95.11 435.09 L96.61 435.03 L98.11 434.96 L99.61 434.89 L101.12 434.82 L102.62 434.75 L104.12 434.68 L105.62 434.61 L107.12 434.54 L108.62 434.47 L110.12 434.40 L111.62 434.32 L113.12 434.25 L114.62 434.18 L116.12 434.10 L117.62 434.03 L119.12 433.95 L120.62 433.87 L122.12 433.80 L123.62 433.72 L125.12 433.64 L126.62 433.56 L128.12 433.48 L129.62 433.40 L131.12 433.32 L132.62 433.24 L134.12 433.15 L135.62 433.07 L137.12 432.99 L138.62 432.90 L140.12 432.82 L141.62 432.73 L143.12 432.64 L144.62 432.56 L146.12 432.47 L147.63 432.38 L149.13 432.29 L150.63 432.20 L152.13 432.11 L153.63 432.02 L155.13 431.92 L156.63 431.83 L158.13 431.74 L159.63 431.64 L161.13 431.54 L162.63 431.45 L164.13 431.35 L165.63 431.25 L167.13 431.15 L168.63 431.06 L170.13 430.96 L171.63 430.85 L173.13 430.75 L174.63 430.65 L176.13 430.55 L177.63 430.44 L179.13 430.34 L180.63 430.23 L182.13 430.13 L183.63 430.02 L185.13 429.91 L186.63 429.80 L188.13 429.69 L189.63 429.58 L191.13 429.47 L192.63 429.36 L194.14 429.24 L195.64 429.13 L197.14 429.01 L198.64 428.90 L200.14 428.78 L201.64 428.66 L203.14 428.55 L204.64 428.43 L206.14 428.31 L207.64 428.19 L209.14 428.06 L210.64 427.94 L212.14 427.82 L213.64 427.69 L215.14 427.57 L216.64 427.44 L218.14 427.31 L219.64 427.18 L221.14 427.05 L222.64 426.92 L224.14 426.79 L225.64 426.66 L227.14 426.53 L228.64 426.39 L230.14 426.26 L231.64 426.12 L233.14 425.98 L234.64 425.85 L236.14 425.71 L237.64 425.57 L239.14 425.42 L240.65 425.28 L242.15 425.14 L243.65 424.99 L245.15 424.85 L246.65 424.70 L248.15 424.55 L249.65 424.40 L251.15 424.25 L252.65 424.10 L254.15 423.95 L255.65 423.79 L257.15 423.64 L258.65 423.48 L260.15 423.32 L261.65 423.16 L263.15 423.00 L264.65 422.84 L266.15 422.67 L267.65 422.51 L269.15 422.34 L270.65 422.17 L272.15 422.00 L273.65 421.83 L275.15 421.66 L276.65 421.49 L278.15 421.31 L279.65 421.13 L281.15 420.95 L282.65 420.77 L284.15 420.58 L285.65 420.40 L287.15 420.21 L288.66 420.02 L290.16 419.83 L291.66 419.63 L293.16 419.44 L294.66 419.24 L296.16 419.04 L297.66 418.83 L299.16 418.62 L300.66 418.41 L302.16 418.20 L303.66 417.98 L305.16 417.76 L306.66 417.54 L308.16 417.32 L309.66 417.09 L311.16 416.85 L312.66 416.61 L314.16 416.37 L315.66 416.13 L317.16 415.87 L318.66 415.62 L320.16 415.36 L321.66 415.09 L323.16 414.82 L324.66 414.54 L326.16 414.26 L327.66 413.97 L329.16 413.68 L330.66 413.37 L332.16 413.06 L333.66 412.75 L335.17 412.42 L336.67 412.09 L338.17 411.74 L339.67 411.39 L341.17 411.03 L342.67 410.66 L344.17 410.28 L345.67 409.88 L347.17 409.48 L348.67 409.06 L350.17 408.64 L351.67 408.19 L353.17 407.74 L354.67 407.27 L356.17 406.79 L357.67 406.29 L359.17 405.78 L360.67 405.25 L362.17 404.71 L363.67 404.15 L365.17 403.57 L366.67 402.98 L368.17 402.37 L369.67 401.75 L371.17 401.11 L372.67 400.46 L374.17 399.79 L375.67 399.11 L377.17 398.43 L378.67 397.73 L380.17 397.03 L381.68 396.32 L383.18 395.61 L384.68 394.91 L386.18 394.21 L387.68 393.53 L389.18 392.86 L390.68 392.22 L392.18 391.60 L393.68 391.01 L395.18 390.46 L396.68 389.96 L398.18 389.51 L399.68 389.11 L401.18 388.78 L402.68 388.51 L404.18 388.31 L405.68 388.17 L407.18 388.11 L408.68 388.13 L410.18 388.21 L411.68 388.37 L413.18 388.59 L414.68 388.88 L416.18 389.23 L417.68 389.64 L419.18 390.09 L420.68 390.59 L422.18 391.12 L423.68 391.69 L425.18 392.28 L426.68 392.90 L428.19 393.53 L429.69 394.17 L431.19 394.81 L432.69 395.46 L434.19 396.10 L435.69 396.74 L437.19 397.37 L438.69 398.00 L440.19 398.61 L441.69 399.20 L443.19 399.78 L444.69 400.35 L446.19 400.90 L447.69 401.43 L449.19 401.95 L450.69 402.45 L452.19 402.93 L453.69 403.39 L455.19 403.84 L456.69 404.28 L458.19 404.69 L459.69 405.10 L461.19 405.48 L462.69 405.86 L464.19 406.22 L465.69 406.56 L467.19 406.90 L468.69 407.22 L470.19 407.53 L471.69 407.83 L473.19 408.12 L474.70 408.39 L476.20 408.66 L477.70 408.92 L479.20 409.17 L480.70 409.42 L482.20 409.65 L483.70 409.88 L485.20 410.10 L486.70 410.31 L488.20 410.52 L489.70 410.72 L491.20 410.91 L492.70 411.10 L494.20 411.29 L495.70 411.47 L497.20 411.64" fill="none" stroke="#5E81B5" stroke-width="1.7"/>
<path d="M30.70 664.47 L32.20 658.65 L33.70 653.09 L35.20 647.76 L36.70 642.65 L38.20 637.74 L39.70 633.02 L41.20 628.49 L42.70 624.13 L44.20 619.92 L45.70 615.87 L47.20 611.96 L48.70 608.19 L50.20 604.54 L51.70 601.02 L53.20 597.60 L54.71 594.30 L56.21 591.10 L57.71 588.00 L59.21 585.00 L60.71 582.08 L62.21 579.25 L63.71 576.50 L65.21 573.83 L66.71 571.23 L68.21 568.70 L69.71 566.24 L71.21 563.85 L72.71 561.52 L74.21 559.25 L75.71 557.03 L77.21 554.87 L78.71 552.76 L80.21 550.71 L81.71 548.70 L83.21 546.74 L84.71 544.83 L86.21 542.95 L87.71 541.12 L89.21 539.34 L90.71 537.59 L92.21 535.88 L93.71 534.20 L95.21 532.56 L96.71 530.95 L98.21 529.38 L99.71 527.84 L101.22 526.33 L102.72 524.85 L104.22 523.40 L105.72 521.98 L107.22 520.58 L108.72 519.21 L110.22 517.87 L111.72 516.55 L113.22 515.25 L114.72 513.98 L116.22 512.73 L117.72 511.50 L119.22 510.30 L120.72 509.11 L122.22 507.95 L123.72 506.80 L125.22 505.68 L126.72 504.57 L128.22 503.48 L129.72 502.41 L131.22 501.36 L132.72 500.32 L134.22 499.30 L135.72 498.30 L137.22 497.31 L138.72 496.34 L140.22 495.38 L141.72 494.43 L143.22 493.50 L144.72 492.59 L146.22 491.69 L147.73 490.80 L149.23 489.92 L150.73 489.06 L152.23 488.21 L153.73 487.37 L155.23 486.54 L156.73 485.73 L158.23 484.92 L159.73 484.13 L161.23 483.35 L162.73 482.57 L164.23 481.81 L165.73 481.06 L167.23 480.32 L168.73 479.59 L170.23 478.87 L171.73 478.16 L173.23 477.45 L174.73 476.76 L176.23 476.07 L177.73 475.40 L179.23 474.73 L180.73 474.07 L182.23 473.42 L183.73 472.78 L185.23 472.14 L186.73 471.51 L188.23 470.89 L189.73 470.28 L191.23 469.67 L192.73 469.08 L194.24 468.49 L195.74 467.90 L197.24 467.32 L198.74 466.75 L200.24 466.19 L201.74 465.63 L203.24 465.08 L204.74 464.54 L206.24 464.00 L207.74 463.46 L209.24 462.94 L210.74 462.42 L212.24 461.90 L213.74 461.39 L215.24 460.89 L216.74 460.39 L218.24 459.90 L219.74 459.41 L221.24 458.92 L222.74 458.45 L224.24 457.97 L225.74 457.51 L227.24 457.04 L228.74 456.58 L230.24 456.13 L231.74 455.68 L233.24 455.24 L234.74 454.79 L236.24 454.36 L237.74 453.93 L239.24 453.50 L240.75 453.07 L242.25 452.65 L243.75 452.24 L245.25 451.83 L246.75 451.42 L248.25 451.01 L249.75 450.61 L251.25 450.21 L252.75 449.82 L254.25 449.43 L255.75 449.04 L257.25 448.65 L258.75 448.27 L260.25 447.89 L261.75 447.51 L263.25 447.14 L264.75 446.77 L266.25 446.40 L267.75 446.04 L269.25 445.67 L270.75 445.31 L272.25 444.95 L273.75 444.60 L275.25 444.24 L276.75 443.89 L278.25 443.54 L279.75 443.19 L281.25 442.84 L282.75 442.50 L284.25 442.15 L285.75 441.81 L287.25 441.47 L288.76 441.12 L290.26 440.78 L291.76 440.44 L293.26 440.10 L294.76 439.77 L296.26 439.43 L297.76 439.09 L299.26 438.75 L300.76 438.41 L302.26 438.07 L303.76 437.73 L305.26 437.39 L306.76 437.05 L308.26 436.71 L309.76 436.37 L311.26 436.02 L312.76 435.67 L314.26 435.32 L315.76 434.97 L317.26 434.62 L318.76 434.26 L320.26 433.90 L321.76 433.53 L323.26 433.16 L324.76 432.79 L326.26 432.41 L327.76 432.03 L329.26 431.64 L330.76 431.25 L332.26 430.85 L333.76 430.44 L335.27 430.03 L336.77 429.61 L338.27 429.18 L339.77 428.74 L341.27 428.29 L342.77 427.83 L344.27 427.37 L345.77 426.89 L347.27 426.40 L348.77 425.90 L350.27 425.39 L351.77 424.86 L353.27 424.32 L354.77 423.76 L356.27 423.20 L357.77 422.61 L359.27 422.01 L360.77 421.40 L362.27 420.77 L363.77 420.13 L365.27 419.47 L366.77 418.79 L368.27 418.10 L369.77 417.40 L371.27 416.68 L372.77 415.95 L374.27 415.21 L375.77 414.46 L377.27 413.71 L378.77 412.95 L380.27 412.20 L381.78 411.44 L383.28 410.70 L384.78 409.97 L386.28 409.25 L387.78 408.56 L389.28 407.90 L390.78 407.27 L392.28 406.68 L393.78 406.14 L395.28 405.65 L396.78 405.22 L398.28 404.85 L399.78 404.54 L401.28 404.31 L402.78 404.15 L404.28 404.06 L405.78 404.05 L407.28 404.11 L408.78 404.24 L410.28 404.44 L411.78 404.71 L413.28 405.04 L414.78 405.43 L416.28 405.87 L417.78 406.35 L419.28 406.87 L420.78 407.42 L422.28 408.01 L423.78 408.61 L425.28 409.23 L426.78 409.86 L428.29 410.50 L429.79 411.14 L431.29 411.78 L432.79 412.42 L434.29 413.05 L435.79 413.67 L437.29 414.28 L438.79 414.88 L440.29 415.46 L441.79 416.03 L443.29 416.59 L444.79 417.12 L446.29 417.65 L447.79 418.15 L449.29 418.64 L450.79 419.12 L452.29 419.58 L453.79 420.02 L455.29 420.45 L456.79 420.86 L458.29 421.26 L459.79 421.65 L461.29 422.02 L462.79 422.39 L464.29 422.73 L465.79 423.07 L467.29 423.40 L468.79 423.72 L470.29 424.02 L471.79 424.32 L473.29 424.61 L474.80 424.89 L476.30 425.16 L477.80 425.43 L479.30 425.68 L480.80 425.94 L482.30 426.18 L483.80 426.42 L485.30 426.65 L486.80 426.88 L488.30 427.10 L489.80 427.32 L491.30 427.54 L492.80 427.75 L494.30 427.95 L495.80 428.15 L497.30 428.35" fill="none" stroke="#E19C24" stroke-width="1.7" stroke-dasharray="6.09 2.635"/>
<g stroke="#1c1c1c" stroke-width="1.25" stroke-opacity="0.66" fill="none"><line x1="11.2" y1="209.30" x2="506.3" y2="209.30"/><line x1="21.20" y1="32.00" x2="21.20" y2="338.00"/></g><g stroke="#2a2a2a" stroke-width="1" fill="none"><line x1="17.18" y1="209.30" x2="17.18" y2="206.90"/><line x1="30.50" y1="209.30" x2="30.50" y2="205.10"/><line x1="43.82" y1="209.30" x2="43.82" y2="206.90"/><line x1="57.14" y1="209.30" x2="57.14" y2="206.90"/><line x1="70.46" y1="209.30" x2="70.46" y2="206.90"/><line x1="83.78" y1="209.30" x2="83.78" y2="206.90"/><line x1="97.10" y1="209.30" x2="97.10" y2="205.10"/><line x1="110.42" y1="209.30" x2="110.42" y2="206.90"/><line x1="123.74" y1="209.30" x2="123.74" y2="206.90"/><line x1="137.06" y1="209.30" x2="137.06" y2="206.90"/><line x1="150.38" y1="209.30" x2="150.38" y2="206.90"/><line x1="163.70" y1="209.30" x2="163.70" y2="205.10"/><line x1="177.02" y1="209.30" x2="177.02" y2="206.90"/><line x1="190.34" y1="209.30" x2="190.34" y2="206.90"/><line x1="203.66" y1="209.30" x2="203.66" y2="206.90"/><line x1="216.98" y1="209.30" x2="216.98" y2="206.90"/><line x1="230.30" y1="209.30" x2="230.30" y2="205.10"/><line x1="243.62" y1="209.30" x2="243.62" y2="206.90"/><line x1="256.94" y1="209.30" x2="256.94" y2="206.90"/><line x1="270.26" y1="209.30" x2="270.26" y2="206.90"/><line x1="283.58" y1="209.30" x2="283.58" y2="206.90"/><line x1="296.90" y1="209.30" x2="296.90" y2="205.10"/><line x1="310.22" y1="209.30" x2="310.22" y2="206.90"/><line x1="323.54" y1="209.30" x2="323.54" y2="206.90"/><line x1="336.86" y1="209.30" x2="336.86" y2="206.90"/><line x1="350.18" y1="209.30" x2="350.18" y2="206.90"/><line x1="363.50" y1="209.30" x2="363.50" y2="205.10"/><line x1="376.82" y1="209.30" x2="376.82" y2="206.90"/><line x1="390.14" y1="209.30" x2="390.14" y2="206.90"/><line x1="403.46" y1="209.30" x2="403.46" y2="206.90"/><line x1="416.78" y1="209.30" x2="416.78" y2="206.90"/><line x1="430.10" y1="209.30" x2="430.10" y2="205.10"/><line x1="443.42" y1="209.30" x2="443.42" y2="206.90"/><line x1="456.74" y1="209.30" x2="456.74" y2="206.90"/><line x1="470.06" y1="209.30" x2="470.06" y2="206.90"/><line x1="483.38" y1="209.30" x2="483.38" y2="206.90"/><line x1="496.70" y1="209.30" x2="496.70" y2="205.10"/><line x1="21.20" y1="333.54" x2="23.70" y2="333.54"/><line x1="21.20" y1="323.21" x2="23.70" y2="323.21"/><line x1="21.20" y1="312.88" x2="25.30" y2="312.88"/><line x1="21.20" y1="302.55" x2="23.70" y2="302.55"/><line x1="21.20" y1="292.22" x2="23.70" y2="292.22"/><line x1="21.20" y1="281.90" x2="23.70" y2="281.90"/><line x1="21.20" y1="271.57" x2="23.70" y2="271.57"/><line x1="21.20" y1="261.24" x2="25.30" y2="261.24"/><line x1="21.20" y1="250.91" x2="23.70" y2="250.91"/><line x1="21.20" y1="240.58" x2="23.70" y2="240.58"/><line x1="21.20" y1="230.26" x2="23.70" y2="230.26"/><line x1="21.20" y1="219.93" x2="23.70" y2="219.93"/><line x1="21.20" y1="199.27" x2="23.70" y2="199.27"/><line x1="21.20" y1="188.94" x2="23.70" y2="188.94"/><line x1="21.20" y1="178.62" x2="23.70" y2="178.62"/><line x1="21.20" y1="168.29" x2="23.70" y2="168.29"/><line x1="21.20" y1="157.96" x2="25.30" y2="157.96"/><line x1="21.20" y1="147.63" x2="23.70" y2="147.63"/><line x1="21.20" y1="137.30" x2="23.70" y2="137.30"/><line x1="21.20" y1="126.98" x2="23.70" y2="126.98"/><line x1="21.20" y1="116.65" x2="23.70" y2="116.65"/><line x1="21.20" y1="106.32" x2="25.30" y2="106.32"/><line x1="21.20" y1="95.99" x2="23.70" y2="95.99"/><line x1="21.20" y1="85.66" x2="23.70" y2="85.66"/><line x1="21.20" y1="75.34" x2="23.70" y2="75.34"/><line x1="21.20" y1="65.01" x2="23.70" y2="65.01"/><line x1="21.20" y1="54.68" x2="25.30" y2="54.68"/><line x1="21.20" y1="44.35" x2="23.70" y2="44.35"/><line x1="21.20" y1="34.02" x2="23.70" y2="34.02"/></g>
<g stroke="#1c1c1c" stroke-width="1.25" stroke-opacity="0.66" fill="none"><line x1="11.2" y1="439.90" x2="506.3" y2="439.90"/><line x1="21.20" y1="372.30" x2="21.20" y2="679.50"/></g><g stroke="#2a2a2a" stroke-width="1" fill="none"><line x1="17.18" y1="439.90" x2="17.18" y2="437.50"/><line x1="30.50" y1="439.90" x2="30.50" y2="435.70"/><line x1="43.82" y1="439.90" x2="43.82" y2="437.50"/><line x1="57.14" y1="439.90" x2="57.14" y2="437.50"/><line x1="70.46" y1="439.90" x2="70.46" y2="437.50"/><line x1="83.78" y1="439.90" x2="83.78" y2="437.50"/><line x1="97.10" y1="439.90" x2="97.10" y2="435.70"/><line x1="110.42" y1="439.90" x2="110.42" y2="437.50"/><line x1="123.74" y1="439.90" x2="123.74" y2="437.50"/><line x1="137.06" y1="439.90" x2="137.06" y2="437.50"/><line x1="150.38" y1="439.90" x2="150.38" y2="437.50"/><line x1="163.70" y1="439.90" x2="163.70" y2="435.70"/><line x1="177.02" y1="439.90" x2="177.02" y2="437.50"/><line x1="190.34" y1="439.90" x2="190.34" y2="437.50"/><line x1="203.66" y1="439.90" x2="203.66" y2="437.50"/><line x1="216.98" y1="439.90" x2="216.98" y2="437.50"/><line x1="230.30" y1="439.90" x2="230.30" y2="435.70"/><line x1="243.62" y1="439.90" x2="243.62" y2="437.50"/><line x1="256.94" y1="439.90" x2="256.94" y2="437.50"/><line x1="270.26" y1="439.90" x2="270.26" y2="437.50"/><line x1="283.58" y1="439.90" x2="283.58" y2="437.50"/><line x1="296.90" y1="439.90" x2="296.90" y2="435.70"/><line x1="310.22" y1="439.90" x2="310.22" y2="437.50"/><line x1="323.54" y1="439.90" x2="323.54" y2="437.50"/><line x1="336.86" y1="439.90" x2="336.86" y2="437.50"/><line x1="350.18" y1="439.90" x2="350.18" y2="437.50"/><line x1="363.50" y1="439.90" x2="363.50" y2="435.70"/><line x1="376.82" y1="439.90" x2="376.82" y2="437.50"/><line x1="390.14" y1="439.90" x2="390.14" y2="437.50"/><line x1="403.46" y1="439.90" x2="403.46" y2="437.50"/><line x1="416.78" y1="439.90" x2="416.78" y2="437.50"/><line x1="430.10" y1="439.90" x2="430.10" y2="435.70"/><line x1="443.42" y1="439.90" x2="443.42" y2="437.50"/><line x1="456.74" y1="439.90" x2="456.74" y2="437.50"/><line x1="470.06" y1="439.90" x2="470.06" y2="437.50"/><line x1="483.38" y1="439.90" x2="483.38" y2="437.50"/><line x1="496.70" y1="439.90" x2="496.70" y2="435.70"/><line x1="21.20" y1="668.74" x2="23.70" y2="668.74"/><line x1="21.20" y1="656.02" x2="23.70" y2="656.02"/><line x1="21.20" y1="643.31" x2="23.70" y2="643.31"/><line x1="21.20" y1="630.59" x2="25.30" y2="630.59"/><line x1="21.20" y1="617.87" x2="23.70" y2="617.87"/><line x1="21.20" y1="605.16" x2="23.70" y2="605.16"/><line x1="21.20" y1="592.44" x2="23.70" y2="592.44"/><line x1="21.20" y1="579.73" x2="23.70" y2="579.73"/><line x1="21.20" y1="567.01" x2="25.30" y2="567.01"/><line x1="21.20" y1="554.29" x2="23.70" y2="554.29"/><line x1="21.20" y1="541.58" x2="23.70" y2="541.58"/><line x1="21.20" y1="528.86" x2="23.70" y2="528.86"/><line x1="21.20" y1="516.15" x2="23.70" y2="516.15"/><line x1="21.20" y1="503.43" x2="25.30" y2="503.43"/><line x1="21.20" y1="490.71" x2="23.70" y2="490.71"/><line x1="21.20" y1="478.00" x2="23.70" y2="478.00"/><line x1="21.20" y1="465.28" x2="23.70" y2="465.28"/><line x1="21.20" y1="452.57" x2="23.70" y2="452.57"/><line x1="21.20" y1="427.13" x2="23.70" y2="427.13"/><line x1="21.20" y1="414.42" x2="23.70" y2="414.42"/><line x1="21.20" y1="401.70" x2="23.70" y2="401.70"/><line x1="21.20" y1="388.99" x2="23.70" y2="388.99"/><line x1="21.20" y1="376.27" x2="25.30" y2="376.27"/></g>
<line x1="407.8" y1="31.5" x2="407.8" y2="210.6" stroke="#96602B" stroke-width="2.1"/>
<line x1="407.8" y1="371.9" x2="407.8" y2="441.3" stroke="#96602B" stroke-width="2.1"/>
<text x="97.10" y="222.80" text-anchor="middle" font-size="9.75">0.00010</text><text x="163.70" y="222.80" text-anchor="middle" font-size="9.75">0.00015</text><text x="230.30" y="222.80" text-anchor="middle" font-size="9.75">0.00020</text><text x="296.90" y="222.80" text-anchor="middle" font-size="9.75">0.00025</text><text x="363.50" y="222.80" text-anchor="middle" font-size="9.75">0.00030</text><text x="430.10" y="222.80" text-anchor="middle" font-size="9.75">0.00035</text><text x="496.70" y="222.80" text-anchor="middle" font-size="9.75">0.00040</text>
<text x="97.10" y="453.20" text-anchor="middle" font-size="9.75">0.00010</text><text x="163.70" y="453.20" text-anchor="middle" font-size="9.75">0.00015</text><text x="230.30" y="453.20" text-anchor="middle" font-size="9.75">0.00020</text><text x="296.90" y="453.20" text-anchor="middle" font-size="9.75">0.00025</text><text x="363.50" y="453.20" text-anchor="middle" font-size="9.75">0.00030</text><text x="430.10" y="453.20" text-anchor="middle" font-size="9.75">0.00035</text><text x="496.70" y="453.20" text-anchor="middle" font-size="9.75">0.00040</text>
<text x="17.6" y="58.28" text-anchor="end" font-size="9.6">3</text><text x="17.6" y="109.92" text-anchor="end" font-size="9.6">2</text><text x="17.6" y="161.56" text-anchor="end" font-size="9.6">1</text><text x="5.7" y="264.84" font-size="9.6">-</text><text x="17.6" y="264.84" text-anchor="end" font-size="9.6">1</text><text x="5.7" y="316.48" font-size="9.6">-</text><text x="17.6" y="316.48" text-anchor="end" font-size="9.6">2</text>
<text x="17.6" y="379.82" text-anchor="end" font-size="9.6">1</text><text x="5.7" y="506.98" font-size="9.6">-</text><text x="17.6" y="506.98" text-anchor="end" font-size="9.6">1</text><text x="5.7" y="570.56" font-size="9.6">-</text><text x="17.6" y="570.56" text-anchor="end" font-size="9.6">2</text><text x="5.7" y="634.14" font-size="9.6">-</text><text x="17.6" y="634.14" text-anchor="end" font-size="9.6">3</text>
<text x="-0.6" y="22.2" font-size="9.6">τ(k) (ms)</text>
<text x="-0.6" y="362.6" font-size="9.6">τ(k) (ms)</text>
<text x="515.4" y="212.8" font-size="9.6">k (au)</text>
<text x="515.4" y="443.2" font-size="9.6">k (au)</text>
<text x="258.9" y="8.9" text-anchor="middle" font-size="12">Square (Exact)</text>
<text x="259" y="349.7" text-anchor="middle" font-size="12">Gaussian (Numerical)</text>
<line x1="558.8" y1="140.30" x2="602.5" y2="140.30" stroke="#5E81B5" stroke-width="1.7"/><text x="609.3" y="145.00" font-size="14.2">τ</text><text x="616.0" y="147.55" font-size="10">y</text><text x="622.0" y="147.55" font-size="10">T</text><text x="628.50" y="145.20" font-size="14.2">(</text><text x="633.30" y="145.00" font-size="13">k</text><text x="641.90" y="145.20" font-size="14.2">)</text>
<line x1="558.8" y1="168.00" x2="602.5" y2="168.00" stroke="#E19C24" stroke-width="1.7" stroke-dasharray="6.3 2.44"/><text x="609.3" y="172.40" font-size="14.2">τ</text><text x="615.1" y="174.95" font-size="10">Φ</text><text x="622.4" y="174.95" font-size="10">T</text><text x="630.20" y="172.60" font-size="14.2">(</text><text x="635.00" y="172.40" font-size="13">k</text><text x="643.60" y="172.60" font-size="14.2">)</text>
<line x1="558.8" y1="193.50" x2="601.0" y2="193.50" stroke="#8FB032" stroke-width="1.7" stroke-dasharray="3.1 2.3 6.3 2.5"/><text x="609.3" y="197.70" font-size="14.2">τ</text><text x="615.1" y="200.25" font-size="10">Φ</text><text x="622.0" y="200.25" font-size="10">R</text><text x="630.20" y="197.90" font-size="14.2">(</text><text x="635.00" y="197.70" font-size="13">k</text><text x="643.60" y="197.90" font-size="14.2">)</text>
<line x1="558.8" y1="493.50" x2="602.5" y2="493.50" stroke="#5E81B5" stroke-width="1.7"/><text x="609.3" y="497.50" font-size="14.2">τ</text><text x="616.0" y="500.05" font-size="10">y</text><text x="622.0" y="500.05" font-size="10">T</text><text x="628.50" y="497.70" font-size="14.2">(</text><text x="633.30" y="497.50" font-size="13">k</text><text x="641.90" y="497.70" font-size="14.2">)</text>
<line x1="558.8" y1="521.20" x2="602.5" y2="521.20" stroke="#E19C24" stroke-width="1.7" stroke-dasharray="6.3 2.44"/><text x="609.3" y="525.20" font-size="14.2">τ</text><text x="615.1" y="527.75" font-size="10">Φ</text><text x="622.4" y="527.75" font-size="10">T</text><text x="630.20" y="525.40" font-size="14.2">(</text><text x="635.00" y="525.20" font-size="13">k</text><text x="643.60" y="525.40" font-size="14.2">)</text>
</svg></body></html>
